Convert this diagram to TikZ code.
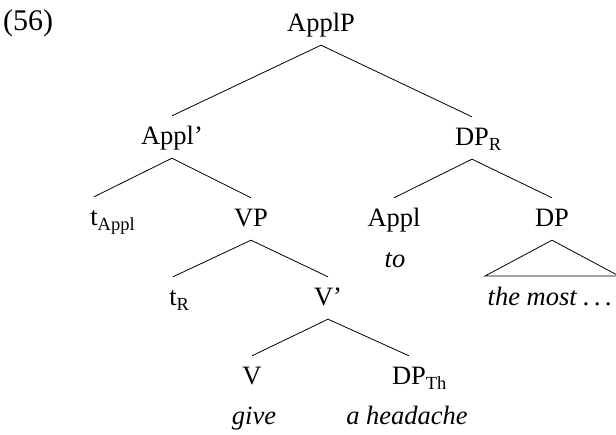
\documentclass[tikz,border=0pt]{standalone}
\usepackage{fontspec}
\setmainfont{Liberation Serif}
\newcommand\treefont{\fontsize{26.5}{31}\selectfont}
\newcommand\mysub[1]{\rlap{\raisebox{-5pt}{\fontsize{18.5}{21}\selectfont #1}}}
\newcommand\spdots{.\kern0.17em.\kern0.17em.}
\begin{document}
\begin{tikzpicture}[x=1pt,y=-1pt,
  lbl/.style={anchor=base, inner sep=0pt, text height=29pt, text depth=13pt, font=\treefont},
  gloss/.style={anchor=base, inner sep=0pt, font=\treefont\itshape},
  branch/.style={line width=0.8pt, line join=miter}]
\useasboundingbox (0,0) rectangle (616,435);
\node[anchor=base west, inner sep=0pt, font=\fontsize{30}{34}\selectfont] (ex) at (3,31) {(56)};
\node[lbl] (applp) at (321,32) {ApplP};
\node[lbl] (applbar) at (172,145) {Appl’};
\node[lbl] (dpr) at (472,146) {DP\mysub{R}};
\node[lbl] (tappl) at (94,226) {t\mysub{Appl}};
\node[lbl] (vp) at (251,227) {VP};
\node[lbl] (appl) at (394,227) {Appl};
\node[lbl] (dp) at (552,227) {DP};
\node[gloss] (to) at (395,268) {to};
\node[lbl] (tr) at (173,306) {t\mysub{R}};
\node[lbl] (vbar) at (328,306) {V’};
\node[gloss] (most) at (550,306) {the most \spdots};
\node[lbl] (v) at (252,385) {V};
\node[lbl] (dpth) at (409,385) {DP\mysub{Th}};
\node[gloss] (give) at (254,425) {give};
\node[gloss] (head) at (407,425) {a headache};
\coordinate (triL) at (485,276);
\coordinate (triR) at (619,276);
\draw[branch] (applp.south) -- (applbar.north);
\draw[branch] (applp.south) -- (dpr.north);
\draw[branch] (applbar.south) -- (tappl.north);
\draw[branch] (applbar.south) -- (vp.north);
\draw[branch] (dpr.south) -- (appl.north);
\draw[branch] (dpr.south) -- (dp.north);
\draw[branch] (vp.south) -- (tr.north);
\draw[branch] (vp.south) -- (vbar.north);
\draw[branch] (vbar.south) -- (v.north);
\draw[branch] (vbar.south) -- (dpth.north);
\draw[branch] (dp.south) -- (triL) -- (triR) -- cycle;
\end{tikzpicture}
\end{document}
